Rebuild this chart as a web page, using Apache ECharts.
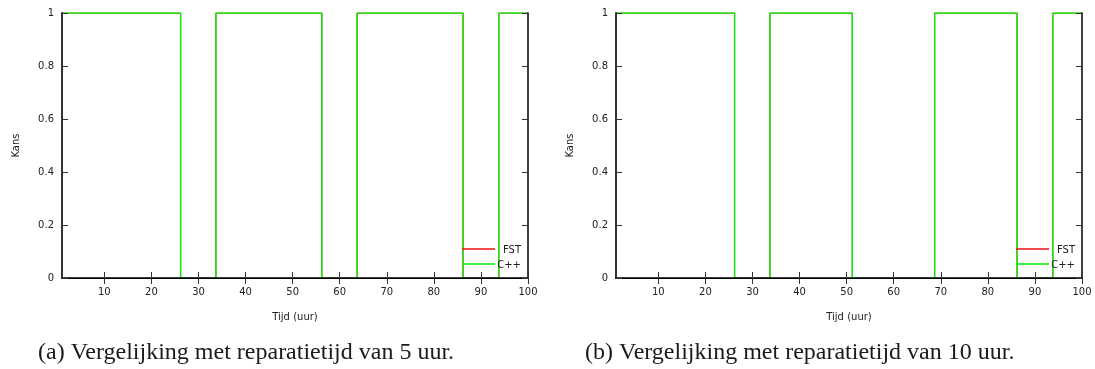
<!DOCTYPE html>
<html>
<head>
<meta charset="utf-8">
<script src="https://cdn.jsdelivr.net/npm/echarts@6/dist/echarts.min.js"></script>
<style>
  html, body { margin: 0; padding: 0; background: #ffffff; }
  #chart { width: 1095px; height: 369px; }
</style>
</head>
<body>
<div id="chart"></div>
<script>
// Availability over time (step curves): hour at which the state changes, and the state from then on
const tijdA = [1, 26.2, 33.7, 56.2, 63.7, 86.2, 93.8, 100];
const fstA  = [1, 0, 1, 0, 1, 0, 1, 1];
const cppA  = [1, 0, 1, 0, 1, 0, 1, 1];

const tijdB = [1, 26.2, 33.7, 51.2, 68.7, 86.2, 93.8, 100];
const fstB  = [1, 0, 1, 0, 1, 0, 1, 1];
const cppB  = [1, 0, 1, 0, 1, 0, 1, 1];

const xTicks = [10, 20, 30, 40, 50, 60, 70, 80, 90, 100];
const seriesNames = ['FST', 'C++'];
const seriesColors = ['#ee1111', '#00ee00'];
const xName = 'Tijd (uur)';
const yName = 'Kans';
const captions = [
  '(a) Vergelijking met reparatietijd van 5 uur.',
  '(b) Vergelijking met reparatietijd van 10 uur.'
];

const panels = [
  { tijd: tijdA, values: [fstA, cppA], left: 62 },
  { tijd: tijdB, values: [fstB, cppB], left: 616 }
];
const captionLeft = [38, 585];

const PLOT_TOP = 13, PLOT_W = 466, PLOT_H = 265;
const FONT = 'DejaVu Sans';
const TEXT = '#222222';

const grid = [], xAxis = [], yAxis = [], series = [], graphic = [];

panels.forEach((p, i) => {
  grid.push({ left: p.left, top: PLOT_TOP, width: PLOT_W, height: PLOT_H });

  // bottom x axis with labels
  xAxis.push({
    type: 'value', gridIndex: i, position: 'bottom', min: 1, max: 100, z: 5,
    name: xName, nameLocation: 'middle', nameGap: 34,
    nameTextStyle: { fontFamily: FONT, fontSize: 10, color: TEXT },
    axisLine: { lineStyle: { color: '#2a2a2a', width: 2, opacity: 0.9 } },
    axisTick: { inside: true, length: 6, customValues: xTicks, lineStyle: { color: '#333', width: 1 } },
    axisLabel: { customValues: xTicks, margin: 9, fontFamily: FONT, fontSize: 10, color: TEXT },
    splitLine: { show: false }
  });
  // mirrored top x axis
  xAxis.push({
    type: 'value', gridIndex: i, position: 'top', min: 1, max: 100, z: 5,
    axisLine: { lineStyle: { color: '#000', width: 1 } },
    axisTick: { inside: true, length: 6, customValues: xTicks, lineStyle: { color: '#333', width: 1 } },
    axisLabel: { show: false },
    splitLine: { show: false }
  });
  // left y axis with labels
  yAxis.push({
    type: 'value', gridIndex: i, position: 'left', min: 0, max: 1, interval: 0.2, z: 5,
    name: yName, nameLocation: 'middle', nameGap: 41,
    nameTextStyle: { fontFamily: FONT, fontSize: 10, color: TEXT },
    axisLine: { show: true, lineStyle: { color: '#333', width: 2 } },
    axisTick: { show: true, inside: true, length: 6, lineStyle: { color: '#333', width: 1 } },
    axisLabel: { margin: 8, fontFamily: FONT, fontSize: 10, color: TEXT },
    splitLine: { show: false }
  });
  // mirrored right y axis
  yAxis.push({
    type: 'value', gridIndex: i, position: 'right', min: 0, max: 1, interval: 0.2, z: 5,
    axisLine: { show: true, lineStyle: { color: '#000', width: 1.5 } },
    axisTick: { show: true, inside: true, length: 6, lineStyle: { color: '#333', width: 1 } },
    axisLabel: { show: false },
    splitLine: { show: false }
  });

  p.values.forEach((vals, k) => {
    series.push({
      name: seriesNames[k],
      type: 'line',
      step: 'end',
      xAxisIndex: 2 * i,
      yAxisIndex: 2 * i,
      showSymbol: false,
      data: p.tijd.map((t, j) => [t, vals[j]]),
      lineStyle: { color: seriesColors[k], width: k === 0 ? 1 : 1.4 },
      itemStyle: { color: seriesColors[k] },
      z: 2 + k
    });
  });

  // key in the lower right corner of each plot
  const right = p.left + PLOT_W;
  seriesNames.forEach((nm, k) => {
    const y = PLOT_TOP + PLOT_H - 29 + k * 15;
    graphic.push({
      type: 'line',
      shape: { x1: right - 66, y1: y, x2: right - 33, y2: y },
      style: { stroke: seriesColors[k], lineWidth: 1.4 },
      z: 10
    });
    graphic.push({
      type: 'text',
      x: right - 7, y: y + 1,
      style: { text: nm, font: '10px "DejaVu Sans"', fill: TEXT, align: 'right', verticalAlign: 'middle' },
      z: 11
    });
  });

  graphic.push({
    type: 'text',
    x: captionLeft[i], y: 353,
    style: { text: captions[i], font: '24px "Liberation Serif"', fill: '#1a1a1a', align: 'left', verticalAlign: 'middle' }
  });
});

const chart = echarts.init(document.getElementById('chart'), null, { renderer: 'canvas' });
chart.setOption({
  animation: false,
  backgroundColor: '#ffffff',
  grid, xAxis, yAxis, series, graphic
});
</script>
</body>
</html>
